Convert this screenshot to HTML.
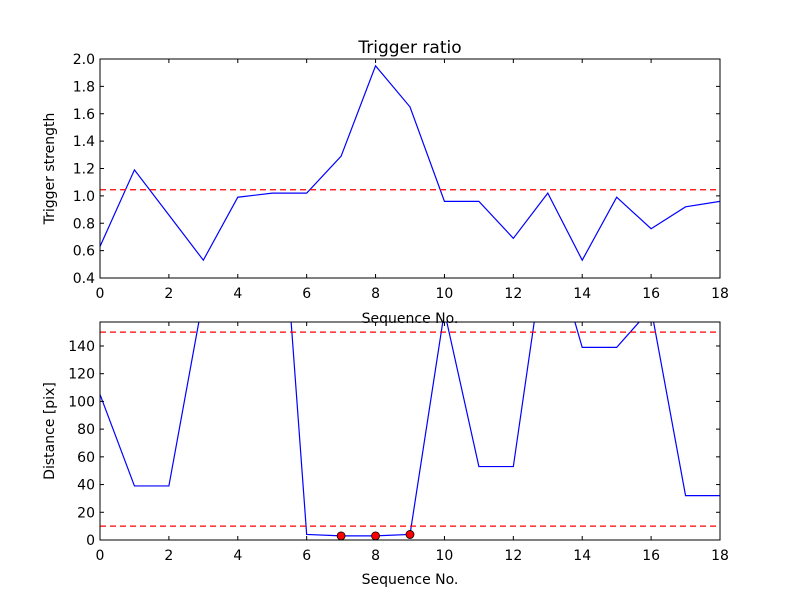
<!DOCTYPE html>
<html><head><meta charset="utf-8"><style>body{margin:0;background:#fff}svg{display:block;font-family:"DejaVu Sans","Liberation Sans",sans-serif}</style></head>
<body>
<svg id="c" width="800" height="600"></svg>
<script>
const seq = [0,1,2,3,4,5,6,7,8,9,10,11,12,13,14,15,16,17,18];
const strength = [0.63,1.19,0.86,0.53,0.99,1.02,1.02,1.29,1.95,1.65,0.96,0.96,0.69,1.02,0.53,0.99,0.76,0.92,0.96];
const strengthThreshold = 1.045;
const distance = [105,39,39,175,300,344,4,3,3,4,165,53,53,225,139,139,167,32,32];
const distanceThresholds = [150,10];
const markerIdx = [7,8,9];
const xTicks = [0,2,4,6,8,10,12,14,16,18];
const yTicksTop = [0.4,0.6,0.8,1.0,1.2,1.4,1.6,1.8,2.0];
const yTicksBot = [0,20,40,60,80,100,120,140];

const NS='http://www.w3.org/2000/svg';
const svg=document.getElementById('c');
function mk(t,a,p){const e=document.createElementNS(NS,t);for(const k in a)e.setAttribute(k,a[k]);(p||svg).appendChild(e);return e;}

function panel(name,top,bot,ymin,ymax,vals,thr){
  const L=100,R=720;
  const g=mk('g',{});
  
  
  const xs=v=>L+(v-0)/(18-0)*(R-L);
  const ys=v=>bot-(v-ymin)/(ymax-ymin)*(bot-top);
  const cp='clip-'+name;
  const cl=mk('clipPath',{id:cp},g); mk('rect',{x:L,y:top,width:R-L,height:bot-top},cl);
  const d=vals.map((v,i)=>(i?'L':'M')+xs(seq[i]).toFixed(2)+','+ys(v).toFixed(2)).join(' ');
  const ln=mk('path',{d:d,fill:'none',stroke:'#0000ff','stroke-width':1.2,'clip-path':'url(#'+cp+')'},g);
  
  
  thr.forEach(t=>{const h=mk('line',{x1:L,x2:R,y1:ys(t),y2:ys(t),stroke:'#ff0000','stroke-width':1.2,'stroke-dasharray':'6,4'},g);
    
    });
  return {g,xs,ys,L,R,top,bot};
}
function axes(p,yTicks,fmt,ylabel,xlabelY){
  const {g,xs,ys,L,R,top,bot}=p;
  const fr=mk('rect',{x:L,y:top,width:R-L,height:bot-top,fill:'none',stroke:'#000','stroke-width':1},g);
  
  
  xTicks.forEach(t=>{const x=xs(t);
    mk('line',{x1:x,x2:x,y1:bot,y2:bot-4,stroke:'#000'},g);
    mk('line',{x1:x,x2:x,y1:top,y2:top+4,stroke:'#000'},g);
    const tx=mk('text',{x:x,y:bot+20,'font-size':14,'text-anchor':'middle'},g);tx.textContent=t;
    
    });
  yTicks.forEach(t=>{const y=ys(t);
    mk('line',{x1:L,x2:L+4,y1:y,y2:y,stroke:'#000'},g);
    mk('line',{x1:R,x2:R-4,y1:y,y2:y,stroke:'#000'},g);
    const tx=mk('text',{x:L-5,y:y+5,'font-size':14,'text-anchor':'end'},g);tx.textContent=fmt(t);
    
    });
  const yl=mk('text',{x:0,y:0,'font-size':14,'text-anchor':'middle',transform:'translate('+(L-46)+','+((top+bot)/2)+') rotate(-90)'},g);
  yl.textContent=ylabel;
  
  
  const xl=mk('text',{x:(L+R)/2,y:xlabelY,'font-size':14,'text-anchor':'middle'},g);
  xl.textContent='Sequence No.';
  
  
}
const p1=panel('trigger-panel',59,278,0.4,2.0,strength,[strengthThreshold]);
axes(p1,yTicksTop,v=>v.toFixed(1),'Trigger strength',323);
const ti=mk('text',{x:410,y:53,'font-size':17,'text-anchor':'middle'});
ti.textContent='Trigger ratio';


const p2=panel('distance-panel',322,540,0,157.3,distance,distanceThresholds);
axes(p2,yTicksBot,v=>String(v),'Distance [pix]',584);
markerIdx.forEach(i=>{const c=mk('circle',{cx:p2.xs(seq[i]),cy:p2.ys(distance[i]),r:4,fill:'#ff0000',stroke:'#000','stroke-width':0.8},p2.g);
  
  });
</script>
</body></html>
